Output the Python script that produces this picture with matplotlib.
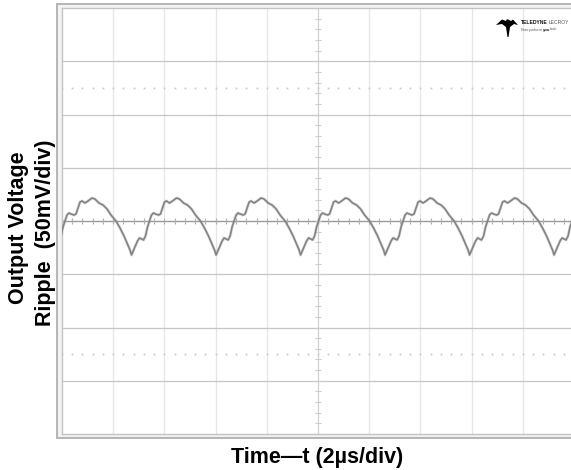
import numpy as np
import matplotlib
matplotlib.use("Agg")
import matplotlib.pyplot as plt
from matplotlib.patches import Rectangle, Polygon

# ---- data -------------------------------------------------------------
# one switching cycle of the output ripple, measured from its minimum
cycle_t_us = [0.000, 0.117, 0.234, 0.313, 0.391, 0.469, 0.547, 0.625, 0.703,
              0.781, 0.859, 0.938, 1.055, 1.133, 1.211, 1.289, 1.367, 1.484,
              1.602, 1.758, 1.875, 2.031, 2.188, 2.344, 2.500, 2.695, 2.852,
              3.008, 3.125, 3.242]
cycle_mv = [-31.9, -25.3, -18.8, -15.9, -16.9, -17.8, -14.1, -5.6, 0.0,
            5.6, 7.5, 6.6, 5.6, 6.6, 12.2, 17.8, 18.8, 16.9,
            18.8, 21.6, 20.6, 16.9, 15.0, 11.3, 5.6, 0.0, -6.6,
            -14.1, -20.6, -27.2]
# times of the ripple minima on screen (us)
trough_times_us = [-0.586, 2.715, 6.020, 9.320, 12.620, 15.920, 19.220]

# scope settings
time_per_div_us = 2.0
volt_per_div_mv = 50.0
n_hdiv, n_vdiv = 10, 8

# ---- build the trace ----------------------------------------------------
trace_t, trace_v = [], []
for t0 in trough_times_us:
    trace_t.extend(t0 + np.asarray(cycle_t_us))
    trace_v.extend(cycle_mv)
trace_t.append(trough_times_us[-1] + 3.30)
trace_v.append(cycle_mv[0])
trace_t = np.asarray(trace_t)
trace_v = np.asarray(trace_v)

# ---- figure -------------------------------------------------------------
W, H = 571, 470
fig = plt.figure(figsize=(W / 100, H / 100), dpi=100)
fig.patch.set_facecolor("white")


def px(x, y):
    """pixel (from top-left) -> figure fraction"""
    return x / W, 1 - y / H


# screen bezel
bx0, by0 = px(56.5, 438)
bx1, by1 = px(590, 3.5)
fig.patches.append(Rectangle((bx0, by0), bx1 - bx0, by1 - by0,
                             transform=fig.transFigure, facecolor="#f3f3f3",
                             edgecolor="#b5b5b5", lw=1.4, zorder=-5))

ax_l, ax_b = px(62, 434)
ax = fig.add_axes([ax_l, ax_b, 512 / W, 426 / H])
ax.set_zorder(1)
ax.set_facecolor("white")
xmax = n_hdiv * time_per_div_us
ymax = n_vdiv / 2 * volt_per_div_mv
ax.set_xlim(0, xmax)
ax.set_ylim(-ymax, ymax)
ax.set_xticks([])
ax.set_yticks([])
for s in ax.spines.values():
    s.set_color("#c4c4c4")
    s.set_linewidth(1.0)

# graticule
for i in range(1, n_hdiv):
    x = i * time_per_div_us
    if i == n_hdiv // 2:
        ax.axvline(x, color="#d2d2d2", lw=0.9, zorder=1)
    else:
        ax.axvline(x, color="#e6e6e6", lw=0.9, zorder=1)
for j in range(1, n_vdiv):
    y = -ymax + j * volt_per_div_mv
    if j == n_vdiv // 2:
        ax.axhline(y, color="#9a9a9a", lw=1.0, zorder=1)
    else:
        ax.axhline(y, color="#c6c6c6", lw=0.9, zorder=1)

# minor ticks along the centre lines
minor_x = np.arange(0, xmax + 1e-9, time_per_div_us / 5)
minor_y = np.arange(-ymax, ymax + 1e-9, volt_per_div_mv / 5)
ax.plot(minor_x, np.zeros_like(minor_x), ls="none", marker="|", ms=4,
        mew=0.8, color="#b0b0b0", zorder=1)
ax.plot(np.full_like(minor_y, xmax / 2), minor_y, ls="none", marker="_",
        ms=4, mew=0.8, color="#cccccc", zorder=1)

# dotted reference rows at +/- 2.5 div
for yy in (2.5 * volt_per_div_mv, -2.5 * volt_per_div_mv):
    ax.plot(minor_x, np.full_like(minor_x, yy), ls="none", marker="s",
            ms=1.3, mew=0, color="#cdcdcd", zorder=1)

# ripple trace
ax.plot(trace_t, trace_v, color="#9a9a9a", lw=2.2, alpha=0.3,
        solid_joinstyle="round", zorder=3)
ax.plot(trace_t, trace_v, color="#838383", lw=1.2,
        solid_joinstyle="round", zorder=4)

# ---- labels -------------------------------------------------------------
lab = dict(family=["Liberation Sans", "DejaVu Sans"], weight="bold",
           fontsize=15.5, color="black")
x1, y1 = px(18.5, 228)
fig.text(x1, y1, "Output Voltage", rotation=90, ha="center", va="center", **lab)
x2, y2 = px(46, 233)
fig.text(x2, y2, "Ripple  (50mV/div)", rotation=90, ha="center", va="center", **lab)
x3, y3 = px(317.5, 458)
fig.text(x3, y3, "Time\u2014t (2\u00b5s/div)", ha="center", va="center", **lab)

# ---- instrument logo ----------------------------------------------------
logo = [(496, 25), (502, 19.5), (506, 21), (507, 19), (511, 21), (513, 19.5),
        (518, 25), (514, 24), (510, 27), (508.5, 37), (507.5, 37), (506, 27),
        (502, 24)]
fig.patches.append(Polygon([px(*p) for p in logo], closed=True,
                           transform=fig.transFigure, facecolor="black",
                           edgecolor="none", zorder=5))

renderer = fig.canvas.get_renderer()


def text_run(x0, y0, pieces, gap):
    """draw consecutive text pieces left to right starting at pixel x0"""
    x = x0
    for s, size, weight, color in pieces:
        fx, fy = px(x, y0)
        t = fig.text(fx, fy, s, family=["Liberation Sans", "DejaVu Sans"],
                     fontsize=size, weight=weight, color=color,
                     ha="left", va="center", zorder=6)
        x += t.get_window_extent(renderer).width + gap


text_run(521, 22.5, [("TELEDYNE", 3.6, "bold", "#111111"),
                     ("LECROY", 3.6, "normal", "#555555")], 0.8)
text_run(521, 29.5, [("Everywhere", 3.1, "normal", "#666666"),
                     ("you", 3.1, "bold", "#222222"),
                     ("look", 3.1, "normal", "#666666")], -0.4)

fig.savefig("out.png", dpi=100)
